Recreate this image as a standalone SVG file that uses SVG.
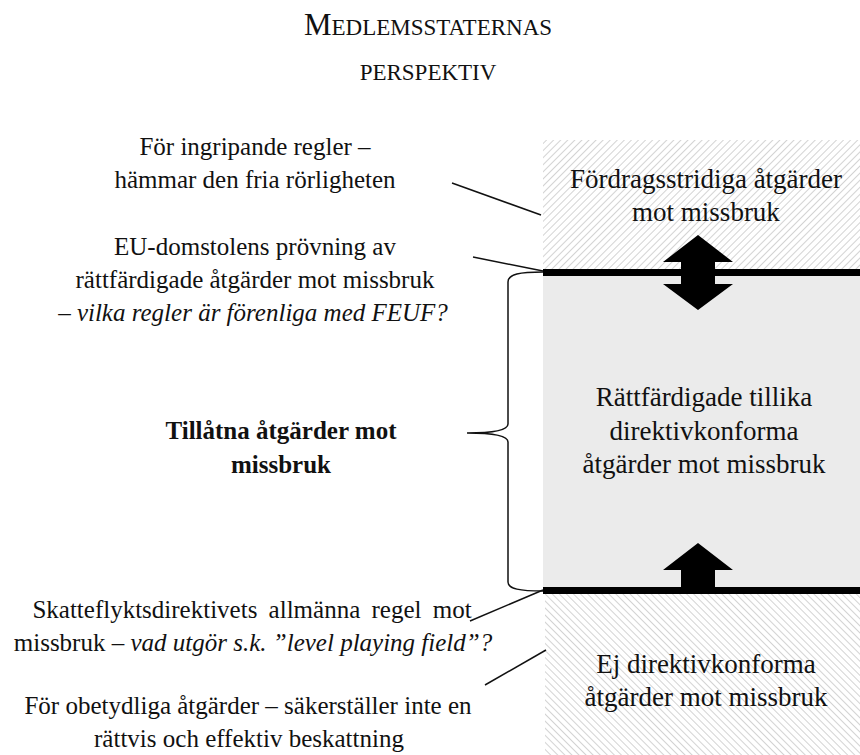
<svg xmlns="http://www.w3.org/2000/svg" width="860" height="755" viewBox="0 0 860 755">
<style>
text{font-family:"Liberation Serif","DejaVu Serif",serif;fill:#111;text-anchor:middle}
.l{font-size:25px}
.r{font-size:27px}
.b{font-weight:bold}
.i{font-style:italic}
.conn{stroke:#111;stroke-width:1.5;fill:none}
.bar{fill:#000}
.arr{fill:#000}
</style>
<defs>
<pattern id="hatchA" width="5" height="5" patternUnits="userSpaceOnUse" patternTransform="rotate(45)">
<rect width="5" height="5" fill="#fff"/>
<line x1="0" y1="0" x2="0" y2="5" stroke="#c8c8c8" stroke-width="1.6"/>
</pattern>
<pattern id="hatchB" width="5" height="5" patternUnits="userSpaceOnUse" patternTransform="rotate(-45)">
<rect width="5" height="5" fill="#fff"/>
<line x1="0" y1="0" x2="0" y2="5" stroke="#c8c8c8" stroke-width="1.6"/>
</pattern>
</defs>
<rect width="860" height="755" fill="#fff"/>

<g id="title">
<text x="428" y="35"><tspan font-size="31">M</tspan><tspan font-size="23">EDLEMSSTATERNAS</tspan></text>
<text x="428" y="80" font-size="23">PERSPEKTIV</text>
</g>

<g id="zone-top">
<rect x="543" y="140" width="317" height="131" fill="url(#hatchA)"/>
<text class="r" x="706" y="188">Fördragsstridiga åtgärder</text>
<text class="r" x="706" y="221">mot missbruk</text>
</g>

<g id="zone-middle">
<rect x="543" y="274" width="317" height="315" fill="#ebebeb"/>
<text class="r" x="704" y="406">Rättfärdigade tillika</text>
<text class="r" x="704" y="440">direktivkonforma</text>
<text class="r" x="704" y="473">åtgärder mot missbruk</text>
</g>

<g id="zone-bottom">
<rect x="545" y="592" width="315" height="163" fill="url(#hatchB)"/>
<text class="r" x="706" y="673">Ej direktivkonforma</text>
<text class="r" x="706" y="706">åtgärder mot missbruk</text>
</g>

<g id="bars">
<rect class="bar" x="543" y="269" width="317" height="7"/>
<rect class="bar" x="543" y="587" width="317" height="7"/>
</g>

<g id="arrow-double">
<polygon class="arr" points="698,235 733,262 715,262 715,284 733,284 698,310 663,284 681,284 681,262 663,262"/>
</g>
<g id="arrow-up">
<polygon class="arr" points="698,543 733,570 715,570 715,590 681,590 681,570 663,570"/>
</g>

<g id="label-ingripande">
<text class="l" x="255" y="155">För ingripande regler –</text>
<text class="l" x="255" y="188">hämmar den fria rörligheten</text>
</g>

<g id="label-eu">
<text class="l" x="255" y="255">EU-domstolens prövning av</text>
<text class="l" x="255" y="288">rättfärdigade åtgärder mot missbruk</text>
<text class="l i" x="253" y="321">– vilka regler är förenliga med FEUF?</text>
</g>

<g id="label-tillatna">
<text class="l b" x="281" y="439">Tillåtna åtgärder mot</text>
<text class="l b" x="281" y="473">missbruk</text>
</g>

<g id="label-skatteflykt">
<text class="l" x="252" y="618" word-spacing="5">Skatteflyktsdirektivets allmänna regel mot</text>
<text class="l" x="253" y="651">missbruk – <tspan class="i">vad utgör s.k. ”level playing field”?</tspan></text>
</g>

<g id="label-obetydliga">
<text class="l" x="248" y="714">För obetydliga åtgärder – säkerställer inte en</text>
<text class="l" x="249" y="747">rättvis och effektiv beskattning</text>
</g>

<g id="connectors">
<line class="conn" x1="452" y1="183" x2="541" y2="215"/>
<line class="conn" x1="473" y1="257" x2="543" y2="271"/>
<line class="conn" x1="470" y1="621" x2="543" y2="590"/>
<line class="conn" x1="485" y1="685" x2="546" y2="650"/>
<path class="conn" d="M543,272 C520,272 508,274 508,282 L508,424 C508,431 490,433 467,433 C490,433 508,435 508,442 L508,582 C508,589 520,591 543,591"/>
</g>
</svg>
